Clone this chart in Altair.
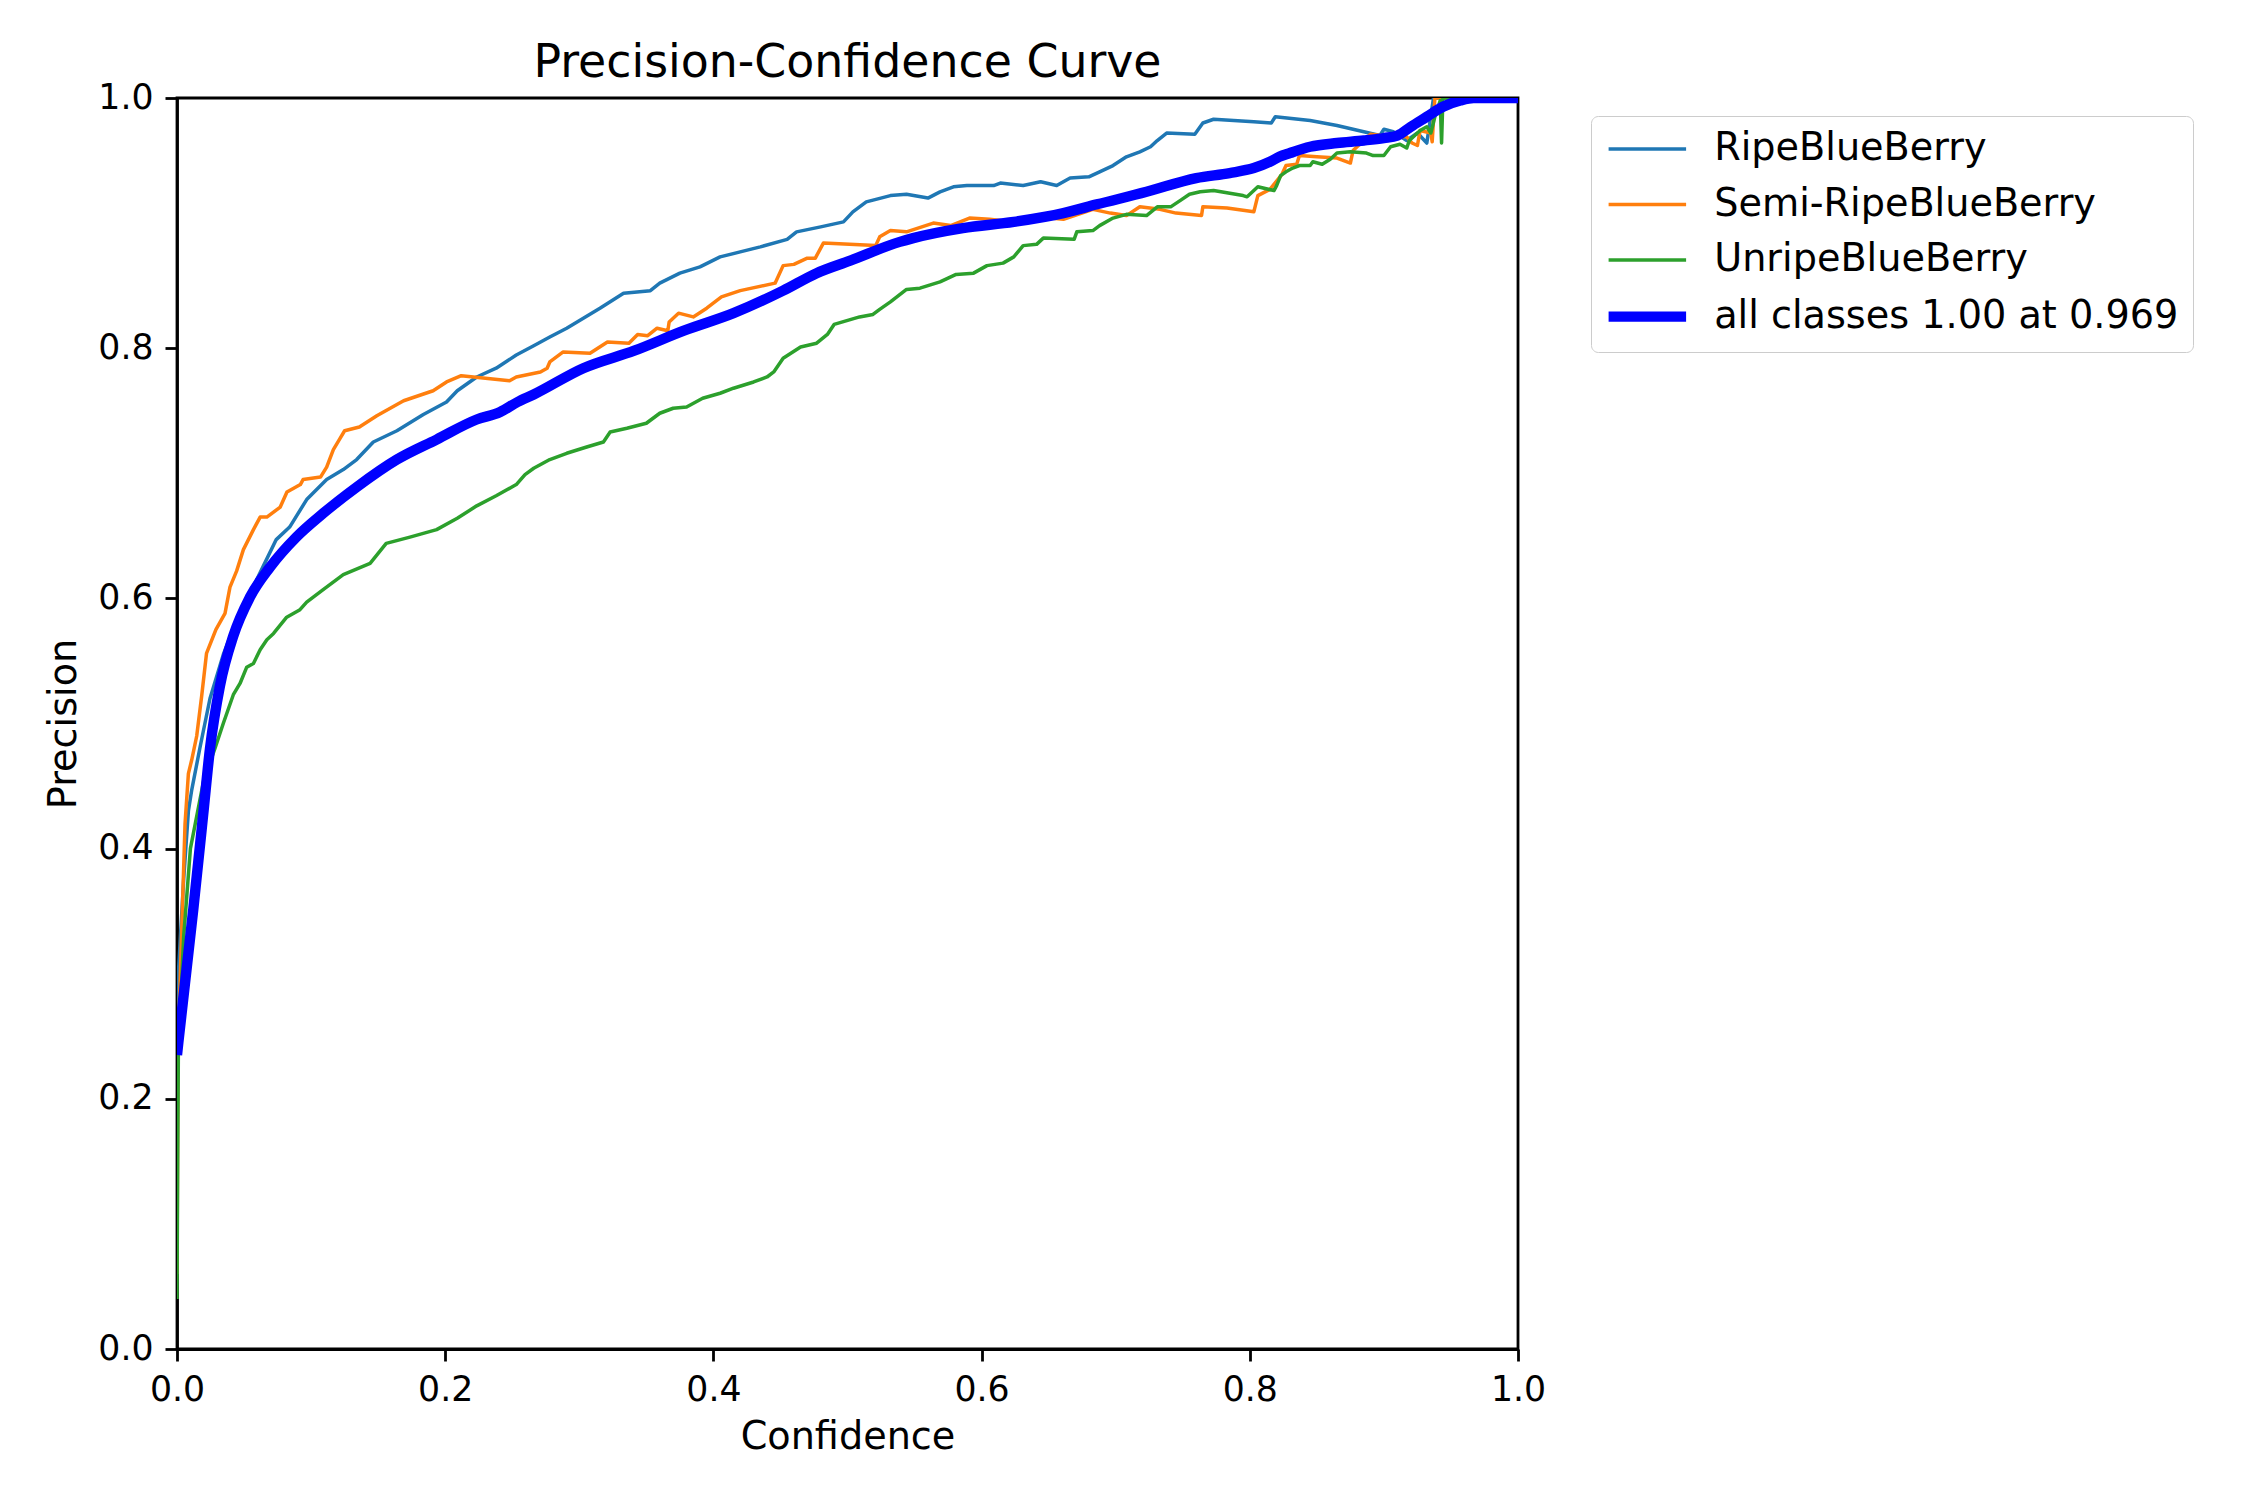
import altair as alt
import pandas as pd

# ---------------- data ----------------
SERIES = ["RipeBlueBerry", "Semi-RipeBlueBerry", "UnripeBlueBerry", "all classes 1.00 at 0.969"]
COLORS = ["#1f77b4", "#ff7f0e", "#2ca02c", "#0000ff"]
THIN_W = 3.5
THICK_W = 10.4

X_TICKS = [0.0, 0.2, 0.4, 0.6, 0.8, 1.0]
Y_TICKS = [0.0, 0.2, 0.4, 0.6, 0.8, 1.0]

# (confidence, precision) pairs
RIPE = [
    (0.0, 0.27), (0.001, 0.30), (0.005, 0.376), (0.0085, 0.43), (0.011, 0.447), (0.017, 0.48),
    (0.0246, 0.52), (0.0345, 0.555), (0.0445, 0.583), (0.0544, 0.604), (0.064, 0.625),
    (0.074, 0.647), (0.084, 0.657), (0.0967, 0.679), (0.1116, 0.695), (0.124, 0.703),
    (0.134, 0.711), (0.1464, 0.725), (0.164, 0.734), (0.1837, 0.747), (0.201, 0.757),
    (0.209, 0.766), (0.2235, 0.777), (0.238, 0.784), (0.253, 0.7945), (0.266, 0.802),
    (0.278, 0.809), (0.2906, 0.816), (0.303, 0.824), (0.3154, 0.832), (0.333, 0.844),
    (0.353, 0.846), (0.36, 0.852), (0.375, 0.86), (0.39, 0.865), (0.405, 0.873),
    (0.42, 0.877), (0.435, 0.881), (0.455, 0.887), (0.462, 0.893), (0.48, 0.897),
    (0.497, 0.901), (0.504, 0.909), (0.514, 0.917), (0.532, 0.922), (0.544, 0.923),
    (0.56, 0.92), (0.569, 0.925), (0.579, 0.929), (0.589, 0.93), (0.609, 0.93),
    (0.614, 0.932), (0.631, 0.93), (0.644, 0.933), (0.656, 0.93), (0.666, 0.936),
    (0.68, 0.937), (0.688, 0.941), (0.698, 0.946), (0.708, 0.953), (0.718, 0.957),
    (0.726, 0.961), (0.731, 0.966), (0.738, 0.972), (0.759, 0.971), (0.765, 0.98),
    (0.773, 0.983), (0.803, 0.981), (0.816, 0.98), (0.819, 0.985), (0.845, 0.982),
    (0.865, 0.978), (0.885, 0.973), (0.897, 0.970), (0.9, 0.975), (0.907, 0.973),
    (0.917, 0.966), (0.925, 0.972), (0.932, 0.964), (0.937, 1.0), (1.0, 1.0),
]

SEMI = [
    (0.0, 0.06), (0.0008, 0.25), (0.0022, 0.29), (0.006, 0.42), (0.0085, 0.46), (0.011, 0.471),
    (0.0147, 0.49), (0.0184, 0.522), (0.022, 0.556), (0.029, 0.575), (0.0358, 0.588),
    (0.0395, 0.609), (0.0445, 0.622), (0.0495, 0.639), (0.057, 0.655), (0.062, 0.665),
    (0.067, 0.665), (0.077, 0.673), (0.082, 0.685), (0.092, 0.691), (0.094, 0.695),
    (0.107, 0.697), (0.1116, 0.705), (0.1166, 0.719), (0.1216, 0.728), (0.125, 0.734),
    (0.136, 0.737), (0.149, 0.746), (0.159, 0.752), (0.169, 0.758), (0.191, 0.766),
    (0.201, 0.773), (0.212, 0.778), (0.248, 0.774), (0.253, 0.777), (0.271, 0.781),
    (0.276, 0.784), (0.278, 0.789), (0.288, 0.797), (0.308, 0.796), (0.321, 0.805),
    (0.337, 0.804), (0.3435, 0.811), (0.351, 0.810), (0.358, 0.816), (0.366, 0.814),
    (0.367, 0.821), (0.374, 0.828), (0.385, 0.825), (0.395, 0.832), (0.406, 0.841),
    (0.42, 0.846), (0.446, 0.852), (0.452, 0.866), (0.46, 0.867), (0.47, 0.872),
    (0.476, 0.872), (0.482, 0.884), (0.521, 0.882), (0.524, 0.889), (0.532, 0.894),
    (0.544, 0.893), (0.564, 0.9), (0.577, 0.898), (0.591, 0.904), (0.606, 0.903),
    (0.631, 0.9), (0.641, 0.905), (0.661, 0.903), (0.683, 0.911), (0.696, 0.908),
    (0.708, 0.906), (0.718, 0.913), (0.733, 0.911), (0.745, 0.908), (0.764, 0.906),
    (0.765, 0.913), (0.783, 0.912), (0.803, 0.909), (0.806, 0.922), (0.815, 0.927),
    (0.824, 0.939), (0.827, 0.946), (0.835, 0.947), (0.837, 0.954), (0.850, 0.953),
    (0.865, 0.952), (0.875, 0.948), (0.877, 0.958), (0.89, 0.971), (0.905, 0.969),
    (0.917, 0.969), (0.921, 0.964), (0.925, 0.962), (0.927, 0.974), (0.935, 0.972),
    (0.936, 0.965), (0.938, 1.0), (1.0, 1.0),
]

UNRIPE = [
    (0.0, 0.04), (0.0005, 0.15), (0.001, 0.235), (0.005, 0.33), (0.01, 0.40), (0.02, 0.455),
    (0.0283, 0.48), (0.0345, 0.50), (0.042, 0.523), (0.047, 0.532), (0.052, 0.545),
    (0.057, 0.548), (0.062, 0.559), (0.067, 0.567), (0.072, 0.572), (0.0818, 0.585),
    (0.0917, 0.591), (0.0967, 0.597), (0.109, 0.607), (0.124, 0.619), (0.144, 0.628),
    (0.156, 0.644), (0.1737, 0.649), (0.1936, 0.655), (0.209, 0.664), (0.2235, 0.674),
    (0.238, 0.682), (0.253, 0.691), (0.2595, 0.699), (0.266, 0.704), (0.278, 0.711),
    (0.2906, 0.716), (0.3055, 0.721), (0.318, 0.725), (0.323, 0.733), (0.3355, 0.736),
    (0.35, 0.74), (0.36, 0.748), (0.37, 0.752), (0.38, 0.753), (0.392, 0.76),
    (0.405, 0.764), (0.415, 0.768), (0.43, 0.773), (0.44, 0.777), (0.445, 0.781),
    (0.452, 0.792), (0.465, 0.801), (0.477, 0.804), (0.485, 0.811), (0.49, 0.819),
    (0.509, 0.825), (0.519, 0.827), (0.524, 0.831), (0.532, 0.837), (0.544, 0.847),
    (0.554, 0.848), (0.569, 0.853), (0.581, 0.859), (0.594, 0.860), (0.604, 0.866),
    (0.616, 0.868), (0.624, 0.873), (0.631, 0.882), (0.641, 0.883), (0.646, 0.888),
    (0.669, 0.887), (0.671, 0.893), (0.683, 0.894), (0.688, 0.898), (0.698, 0.904),
    (0.708, 0.907), (0.723, 0.906), (0.731, 0.913), (0.741, 0.913), (0.748, 0.918),
    (0.755, 0.923), (0.763, 0.925), (0.773, 0.926), (0.795, 0.922), (0.798, 0.921),
    (0.806, 0.929), (0.818, 0.926), (0.82, 0.930), (0.823, 0.938), (0.827, 0.941),
    (0.832, 0.944), (0.837, 0.946), (0.845, 0.946), (0.847, 0.949), (0.854, 0.947),
    (0.860, 0.951), (0.865, 0.956), (0.875, 0.957), (0.887, 0.956), (0.892, 0.954),
    (0.900, 0.954), (0.905, 0.961), (0.912, 0.963), (0.917, 0.960), (0.919, 0.966),
    (0.927, 0.974), (0.932, 0.977), (0.935, 0.972), (0.938, 0.985), (0.942, 0.998),
    (0.943, 0.964), (0.944, 1.0), (1.0, 1.0),
]

ALL = [
    (0.0, 0.235), (0.001, 0.245), (0.0122, 0.352), (0.0196, 0.428), (0.0246, 0.48),
    (0.032, 0.53), (0.042, 0.570), (0.0544, 0.601), (0.0694, 0.625), (0.089, 0.649),
    (0.109, 0.668), (0.134, 0.689), (0.164, 0.711), (0.1936, 0.727), (0.2235, 0.743),
    (0.241, 0.749), (0.254, 0.757), (0.266, 0.763), (0.303, 0.784), (0.341, 0.798),
    (0.378, 0.814), (0.415, 0.828), (0.452, 0.846), (0.477, 0.86), (0.502, 0.87),
    (0.539, 0.885), (0.549, 0.888), (0.586, 0.896), (0.624, 0.901), (0.661, 0.908),
    (0.686, 0.915), (0.723, 0.925), (0.760, 0.936), (0.785, 0.94), (0.803, 0.944),
    (0.815, 0.949), (0.822, 0.953), (0.830, 0.956), (0.845, 0.961), (0.865, 0.964),
    (0.885, 0.966), (0.900, 0.968), (0.910, 0.970), (0.920, 0.977), (0.932, 0.985),
    (0.944, 0.993), (0.957, 0.998), (0.967, 1.0), (1.0, 1.0),
]


def frame(name, pts):
    return pd.DataFrame(
        {"series": name, "conf": [c for c, _ in pts], "prec": [p for _, p in pts],
         "order": list(range(len(pts)))}
    )


df_cls = pd.concat([frame(SERIES[0], RIPE), frame(SERIES[1], SEMI), frame(SERIES[2], UNRIPE)])
df_all = frame(SERIES[3], ALL)

FONT = "DejaVu Sans"

legend = alt.Legend(
    title=None, orient="none", legendX=1414, legendY=18,
    symbolType="M-1,0H4", symbolSize=961, labelOffset=71, rowPadding=16.5,
    symbolStrokeWidth={"expr": f"datum.value === '{SERIES[3]}' ? {THICK_W} : {THIN_W}"},
    padding=14, strokeColor="#cccccc", cornerRadius=7, fillColor="#ffffff",
    labelFont=FONT, labelFontSize=38.2, labelColor="black", labelLimit=1000,
)

color = alt.Color("series:N", scale=alt.Scale(domain=SERIES, range=COLORS), legend=legend)

x = alt.X(
    "conf:Q", scale=alt.Scale(domain=[0, 1], nice=False, zero=False),
    axis=alt.Axis(values=X_TICKS, format=".1f", title="Confidence"),
)
y = alt.Y(
    "prec:Q", scale=alt.Scale(domain=[0, 1], nice=False, zero=False),
    axis=alt.Axis(values=Y_TICKS, format=".1f", title="Precision"),
)

cls_lines = alt.Chart(df_cls).mark_line(
    interpolate="linear", clip=True, strokeJoin="round", strokeWidth=THIN_W
).encode(x=x, y=y, color=color, order=alt.Order("order:Q"))

all_line = alt.Chart(df_all).mark_line(
    interpolate="monotone", clip=True, strokeJoin="round", strokeWidth=THICK_W
).encode(x=x, y=y, color=color, order=alt.Order("order:Q"))

chart = (
    alt.layer(cls_lines, all_line)
    .properties(
        width=1341, height=1251,
        title=alt.TitleParams("Precision-Confidence Curve"),
        autosize=alt.AutoSizeParams(type="none"),
        padding={"left": 169, "top": 90, "right": 720, "bottom": 140},
    )
    .configure_view(stroke="black", strokeWidth=2.8)
    .configure_axis(
        domainColor="black", domainWidth=2.8, tickColor="black", tickWidth=2.8, tickSize=12,
        labelPadding=12, labelFont=FONT, labelFontSize=34.7, labelColor="black",
        labelFlush=False, labelOverlap=False,
        titleFont=FONT, titleFontSize=38.2, titleFontWeight="normal", titleColor="black",
        grid=False,
    )
    .configure_axisX(titlePadding=12)
    .configure_axisY(titlePadding=14)
    .configure_title(
        font=FONT, fontSize=45.8, fontWeight="normal", color="black",
        anchor="middle", offset=-7, baseline="alphabetic",
    )
)

chart.save("out.html", embed_options={"renderer": "svg", "actions": False})
